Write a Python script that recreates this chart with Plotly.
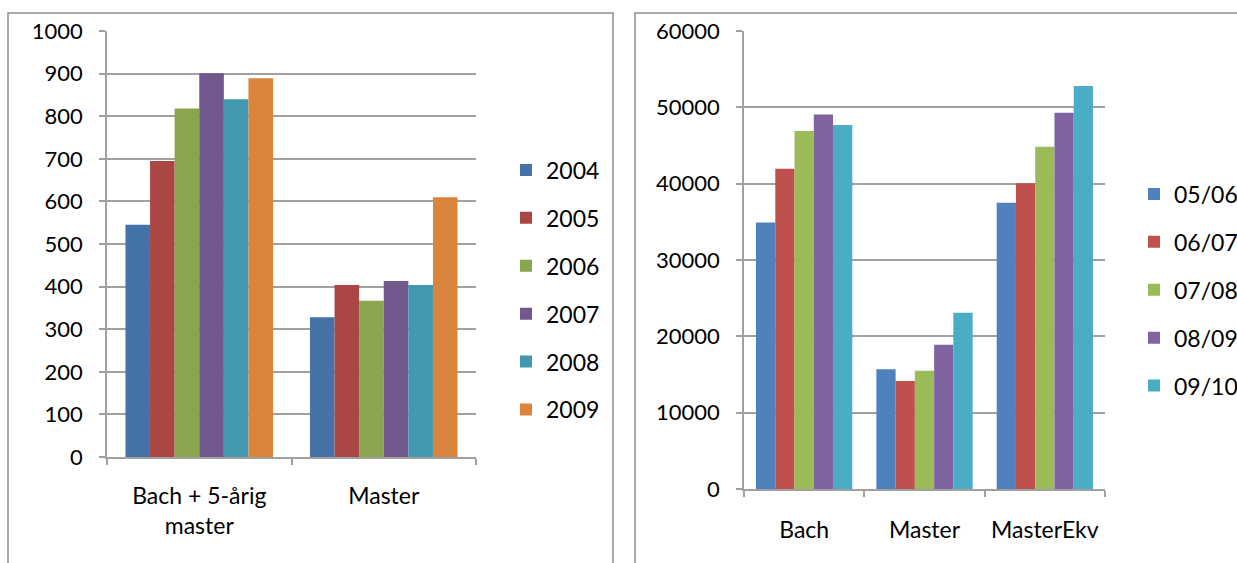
import plotly.graph_objects as go

W, H = 1237, 563

# ---- Left chart data ----
left_categories = ["Bach + 5-årig<br>master", "Master"]
left_series = ["2004", "2005", "2006", "2007", "2008", "2009"]
left_2004 = [545, 328]
left_2005 = [695, 404]
left_2006 = [818, 367]
left_2007 = [901, 413]
left_2008 = [840, 404]
left_2009 = [889, 610]
left_colors = ["#4572A7", "#AA4643", "#89A54E", "#71588F", "#4198AF", "#DB843D"]
left_ticks = [0, 100, 200, 300, 400, 500, 600, 700, 800, 900, 1000]

# ---- Right chart data ----
right_categories = ["Bach", "Master", "MasterEkv"]
right_series = ["05/06", "06/07", "07/08", "08/09", "09/10"]
right_0506 = [34900, 15700, 37500]
right_0607 = [41950, 14150, 40050]
right_0708 = [46900, 15500, 44850]
right_0809 = [49050, 18900, 49300]
right_0910 = [47700, 23100, 52800]
right_colors = ["#4F81BD", "#C0504D", "#9BBB59", "#8064A2", "#4BACC6"]
right_ticks = [0, 10000, 20000, 30000, 40000, 50000, 60000]

left_values = [left_2004, left_2005, left_2006, left_2007, left_2008, left_2009]
right_values = [right_0506, right_0607, right_0708, right_0809, right_0910]

FONT = "Lato"
GRID = "#A0A0A0"

fig = go.Figure()

for name, vals, col in zip(left_series, left_values, left_colors):
    fig.add_trace(go.Bar(x=left_categories, y=vals, name=name, marker_color=col,
                         marker_line_width=0, xaxis="x", yaxis="y",
                         legend="legend", legendgroup="L" + name))

for name, vals, col in zip(right_series, right_values, right_colors):
    fig.add_trace(go.Bar(x=right_categories, y=vals, name=name, marker_color=col,
                         marker_line_width=0, xaxis="x2", yaxis="y2",
                         legend="legend2", legendgroup="R" + name))


def px(x):
    return x / W


def py(y):
    return 1 - y / H


def axis_style(size):
    return dict(showline=True, linecolor=GRID, linewidth=1.5,
                ticks="outside", ticklen=6, tickcolor=GRID, tickwidth=1.5,
                tickfont=dict(family=FONT, size=size, color="#000000"))


fig.update_layout(
    width=W, height=H,
    margin=dict(l=0, r=0, t=0, b=0, autoexpand=False),
    paper_bgcolor="white", plot_bgcolor="white",
    barmode="group",
    bargap=0.2,
    showlegend=True,
    xaxis=dict(domain=[px(107), px(476)], anchor="y", type="category",
               tickson="boundaries", showgrid=False, automargin=False,
               ticklabelstandoff=18, **axis_style(23)),
    yaxis=dict(domain=[py(457), py(31)], anchor="x", range=[0, 1000],
               tickvals=left_ticks, tickformat="d", showgrid=True, gridcolor=GRID,
               gridwidth=1.5, zeroline=False, ticklabelstandoff=12, automargin=False,
               **axis_style(22)),
    xaxis2=dict(domain=[px(744), px(1105)], anchor="y2", type="category",
                tickson="boundaries", showgrid=False, automargin=False,
                ticklabelstandoff=20, **axis_style(23)),
    yaxis2=dict(domain=[py(489), py(31)], anchor="x2", range=[0, 60000],
                tickvals=right_ticks, tickformat="d", showgrid=True, gridcolor=GRID,
                gridwidth=1.5, zeroline=False, ticklabelstandoff=12, automargin=False,
                **axis_style(22)),
    legend=dict(x=px(506), y=py(290), xanchor="left", yanchor="middle",
                font=dict(family=FONT, size=23, color="#000000"),
                tracegroupgap=15, bgcolor="rgba(0,0,0,0)"),
    legend2=dict(x=px(1134), y=py(290), xanchor="left", yanchor="middle",
                 font=dict(family=FONT, size=23, color="#000000"),
                 tracegroupgap=15, bgcolor="rgba(0,0,0,0)"),
    shapes=[
        dict(type="rect", xref="paper", yref="paper", x0=px(8), x1=px(613),
             y0=-0.1, y1=py(13), line=dict(color="#8C8C8C", width=1.5)),
        dict(type="rect", xref="paper", yref="paper", x0=px(635), x1=1.1,
             y0=-0.1, y1=py(13), line=dict(color="#8C8C8C", width=1.5)),
    ],
)

fig.write_html(
    "out.html",
    config={"displayModeBar": False},
    post_script="document.body.style.margin='0';document.body.style.overflow='hidden';",
)
